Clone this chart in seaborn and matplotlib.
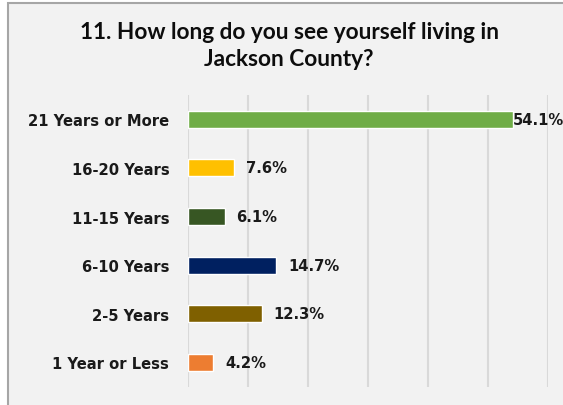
import matplotlib
matplotlib.use("Agg")
import matplotlib.pyplot as plt
import seaborn as sns
import pandas as pd
from matplotlib.patches import Rectangle

categories = ["21 Years or More", "16-20 Years", "11-15 Years", "6-10 Years", "2-5 Years", "1 Year or Less"]
values = [54.1, 7.6, 6.1, 14.7, 12.3, 4.2]
labels = ["54.1%", "7.6%", "6.1%", "14.7%", "12.3%", "4.2%"]
colors = ["#70ad47", "#ffc000", "#375623", "#002060", "#7f6000", "#ed7d31"]
title = "11. How long do you see yourself living in\nJackson County?"

sns.set_theme(style="white")
plt.rcParams['font.family'] = ['DejaVu Sans']

W, H = 563, 406
fig = plt.figure(figsize=(W / 100, H / 100), dpi=100)
fig.patch.set_facecolor("white")
# chart frame
fig.patches.append(Rectangle((8 / W, -0.1), 1.2, (1 - 4 / H) + 0.1, transform=fig.transFigure,
                             facecolor="#f2f2f2", edgecolor="#a6a6a6", linewidth=1.5, zorder=-10))

ax = fig.add_axes([188 / W, 1 - 387.6 / H, 360 / W, 291.6 / H])
ax.set_zorder(5)
ax.set_facecolor("none")

df = pd.DataFrame({"cat": categories, "val": values})
sns.barplot(data=df, x="val", y="cat", hue="cat", palette=colors, legend=False,
            width=0.35, ax=ax, orient="h", saturation=1, zorder=3)

ax.set_xlim(0, 60)
ax.set_xticks(range(0, 61, 10))
ax.xaxis.grid(True, color="#d9d9d9", linewidth=1.5, zorder=0)
ax.set_axisbelow(True)
ax.tick_params(axis="x", length=0, labelbottom=False)
ax.tick_params(axis="y", length=0, pad=13.5)
for lab in ax.get_yticklabels():
    lab.set_fontweight("bold")
    lab.set_fontsize(10.6)
    lab.set_color("#1a1a1a")
ax.set_xlabel("")
ax.set_ylabel("")
for s in ax.spines.values():
    s.set_visible(False)

for i, (v, t) in enumerate(zip(values, labels)):
    pad = 0 if v > 50 else 12
    ax.annotate(t, xy=(v, i), xytext=(pad, 0), textcoords="offset pixels",
                ha="left", va="center", fontsize=10.6, fontweight="bold",
                color="#1a1a1a", annotation_clip=False)

fig.text(289 / W, 1 - 46 / H, title, ha="center", va="center", fontsize=16.3,
         fontweight="bold", color="#0d0d0d", linespacing=1.3, family=["Lato", "DejaVu Sans"])

fig.savefig("out.png", dpi=100)
